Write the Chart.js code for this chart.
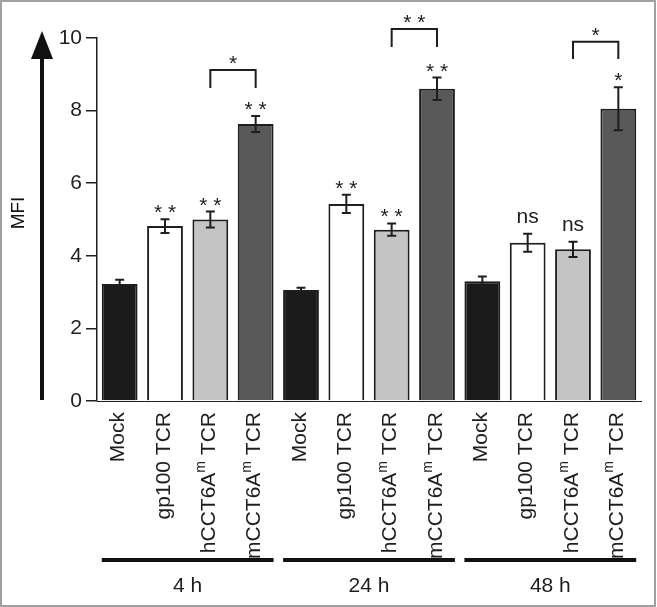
<!DOCTYPE html>
<html>
<head>
<meta charset="utf-8">
<script src="https://cdn.jsdelivr.net/npm/chart.js@4.4.1/dist/chart.umd.min.js"></script>
<style>
    body { margin: 0; background: #fff; }
    canvas { display: block; }
</style>
</head>
<body>
<canvas id="myChart" width="657" height="607"></canvas>
<script>
// categories ("^" marks a superscript part)
var categories = ['Mock', 'gp100 TCR', 'hCCT6A^m TCR', 'mCCT6A^m TCR',
    'Mock', 'gp100 TCR', 'hCCT6A^m TCR', 'mCCT6A^m TCR',
    'Mock', 'gp100 TCR', 'hCCT6A^m TCR', 'mCCT6A^m TCR'];
var groupNames = ['4 h', '24 h', '48 h'];
var mfiMeans = [3.22, 4.82, 5.00, 7.63, 3.06, 5.43, 4.72, 8.60, 3.30, 4.36, 4.18, 8.05];
var mfiErrors = [0.12, 0.19, 0.22, 0.22, 0.06, 0.25, 0.17, 0.31, 0.13, 0.25, 0.21, 0.59];
var sigLabels = ['', '* *', '* *', '* *', '', '* *', '* *', '* *', '', 'ns', 'ns', '*'];
// bracket comparisons: from bar, to bar, bracket top, leg bottom (MFI units), label
var bracketFrom = [2, 6, 10];
var bracketTo = [3, 7, 11];
var bracketTop = [9.12, 10.25, 9.9];
var bracketLeg = [8.62, 9.75, 9.42];
var bracketText = ['*', '* *', '*'];
var yTicks = [0, 2, 4, 6, 8, 10];

var barColors = ['#1b1b1b', '#ffffff', '#c4c4c4', '#595959'];
var ink = '#1e1e1e';
var fontFamily = '"Liberation Sans", Arial, sans-serif';

const ctx = document.getElementById('myChart');

/**
 * draw error bars, significance marks, brackets, labels and the arrow
 */
const extrasPlugin = {
    id: 'extras',
    afterDatasetsDraw(chart) {
        const c = chart.ctx;
        const x = chart.scales.x;
        const y = chart.scales.y;
        const meta = chart.getDatasetMeta(0);
        c.save();
        c.strokeStyle = ink;
        c.fillStyle = ink;

        // error bars
        c.lineWidth = 2;
        for (let i = 0; i < mfiMeans.length; i++) {
            const px = x.getPixelForValue(i);
            const top = y.getPixelForValue(mfiMeans[i] + mfiErrors[i]);
            const bot = y.getPixelForValue(mfiMeans[i] - mfiErrors[i]);
            c.beginPath();
            c.moveTo(px, top); c.lineTo(px, bot);
            c.moveTo(px - 4.5, top); c.lineTo(px + 4.5, top);
            c.moveTo(px - 4.5, bot); c.lineTo(px + 4.5, bot);
            c.stroke();

            // significance over the bar
            if (sigLabels[i]) {
                c.textAlign = 'center';
                c.textBaseline = 'alphabetic';
                c.font = '21px ' + fontFamily;
                const off = sigLabels[i] === 'ns' ? -11 : 0;
                c.fillText(sigLabels[i], px, top + off);
            }
        }

        // brackets
        for (let k = 0; k < bracketFrom.length; k++) {
            const x1 = x.getPixelForValue(bracketFrom[k]);
            const x2 = x.getPixelForValue(bracketTo[k]);
            const t = y.getPixelForValue(bracketTop[k]);
            const b = y.getPixelForValue(bracketLeg[k]);
            c.beginPath();
            c.moveTo(x1, b); c.lineTo(x1, t); c.lineTo(x2, t); c.lineTo(x2, b);
            c.stroke();
            c.textAlign = 'center';
            c.font = '21px ' + fontFamily;
            c.fillText(bracketText[k], (x1 + x2) / 2, t);
        }

        // rotated category labels
        const labelTop = chart.chartArea.bottom + 11;
        for (let i = 0; i < categories.length; i++) {
            const parts = categories[i].split(/\^(\S+)/);
            const pieces = [];
            parts.forEach(function (p, j) {
                if (!p) return;
                pieces.push({ t: p, sup: j % 2 === 1 });
            });
            let total = 0;
            pieces.forEach(function (p) {
                c.font = (p.sup ? '14px ' : '21px ') + fontFamily;
                p.w = c.measureText(p.t).width;
                total += p.w;
            });
            c.save();
            c.translate(x.getPixelForValue(i) - 1, labelTop);
            c.rotate(-Math.PI / 2);
            c.textAlign = 'left';
            c.textBaseline = 'middle';
            let cx = -total;
            pieces.forEach(function (p) {
                c.font = (p.sup ? '14px ' : '21px ') + fontFamily;
                c.fillText(p.t, cx, p.sup ? -8 : 0);
                cx += p.w;
            });
            c.restore();
        }

        // group lines and names
        const half = meta.data[0].width / 2;
        for (let g = 0; g < groupNames.length; g++) {
            const left = x.getPixelForValue(g * 4) - half;
            const right = x.getPixelForValue(g * 4 + 3) + half;
            c.lineWidth = 4;
            c.strokeStyle = '#111';
            c.beginPath();
            c.moveTo(left, 560); c.lineTo(right, 560);
            c.stroke();
            c.textAlign = 'center';
            c.textBaseline = 'middle';
            c.font = '21px ' + fontFamily;
            c.fillText(groupNames[g], (left + right) / 2, 586);
        }

        // axis arrow and title
        c.strokeStyle = '#111';
        c.fillStyle = '#111';
        c.lineWidth = 4;
        c.beginPath();
        c.moveTo(42, 400); c.lineTo(42, 56);
        c.stroke();
        c.beginPath();
        c.moveTo(42, 31); c.lineTo(31, 59); c.lineTo(53, 59);
        c.closePath();
        c.fill();
        c.save();
        c.translate(19, 213);
        c.rotate(-Math.PI / 2);
        c.textAlign = 'center';
        c.textBaseline = 'middle';
        c.font = '19px ' + fontFamily;
        c.fillText('MFI', 0, 0);
        c.restore();

        // frame
        c.strokeStyle = '#a0a0a0';
        c.lineWidth = 2;
        c.strokeRect(1, 1, 654, 605);
        c.restore();
    }
};

var myChart = new Chart(ctx, {
    type: 'bar',
    data: {
        labels: categories,
        datasets: [{
            data: mfiMeans,
            backgroundColor: categories.map(function (_, i) { return barColors[i % 4]; }),
            borderColor: ink,
            borderWidth: 2,
            barPercentage: 0.79,
            categoryPercentage: 1,
        }],
    },
    options: {
        responsive: false,
        animation: false,
        events: [],
        layout: { padding: { left: 0, top: 38, right: 16, bottom: 206 } },
        plugins: { legend: { display: false }, tooltip: { enabled: false } },
        scales: {
            x: {
                grid: { display: false },
                ticks: { display: false },
                border: { display: true, color: ink, width: 1 },
                afterFit: function (scale) { scale.height = 0; },
            },
            y: {
                min: 0,
                max: 10,
                afterBuildTicks: function (scale) {
                    scale.ticks = yTicks.map(function (v) { return { value: v }; });
                },
                afterFit: function (scale) { scale.width = 97; },
                grid: { drawOnChartArea: false, drawTicks: true, tickLength: 11, color: ink, lineWidth: 1.5 },
                border: { color: ink, width: 1.5 },
                ticks: { color: ink, padding: 4, font: { size: 21, family: fontFamily } },
            }
        }
    },
    plugins: [extrasPlugin]
});
</script>
</body>
</html>
